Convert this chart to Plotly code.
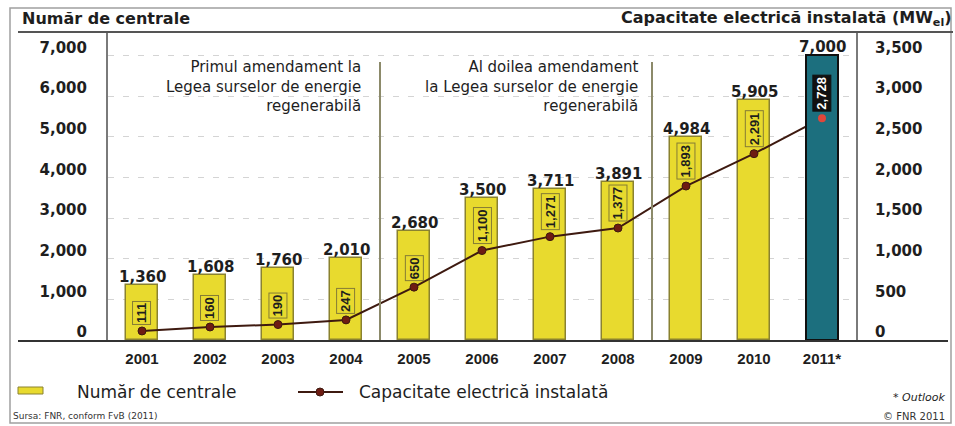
import plotly.graph_objects as go

# ---- data ----
years = ["2001", "2002", "2003", "2004", "2005", "2006", "2007", "2008", "2009", "2010", "2011"]
year_labels = ["2001", "2002", "2003", "2004", "2005", "2006", "2007", "2008", "2009", "2010", "2011*"]
numar_centrale = [1360, 1608, 1760, 2010, 2680, 3500, 3711, 3891, 4984, 5905, 7000]
capacitate_mw = [111, 160, 190, 247, 650, 1100, 1271, 1377, 1893, 2291, 2728]
left_ticks = [0, 1000, 2000, 3000, 4000, 5000, 6000, 7000]
right_ticks = [0, 500, 1000, 1500, 2000, 2500, 3000, 3500]

hist_years = years[:-1]
hist_centrale = numar_centrale[:-1]
outlook_year = years[-1:]
outlook_centrale = numar_centrale[-1:]

# ---- styling ----
W, H = 955, 426
L, R, T, B = 108, 856, 33, 340
LEFT_MAX = 7550
RIGHT_MAX = LEFT_MAX / 2

YELLOW = "#e8da2e"
OLIVE = "#8a8230"
TEAL = "#1c6f7e"
LINE = "#3e1a10"
DOT = "#6e1c12"
RED = "#e0463a"
INK = "#1e1e1e"

NUM_FONT = "DejaVu Sans"
TXT_FONT = "DejaVu Sans"
TICK_FONT = "Liberation Sans"


def px(x):
    return (x - L) / (R - L)


def py(y):
    return (B - y) / (B - T)


fig = go.Figure()

# yellow bars (historical years)
fig.add_trace(go.Bar(
    x=hist_years, y=hist_centrale, width=0.47,
    marker=dict(color=YELLOW, line=dict(color=OLIVE, width=1.5)),
    xaxis="x", yaxis="y", showlegend=False, hoverinfo="skip",
))

# installed capacity line
fig.add_trace(go.Scatter(
    x=years, y=capacitate_mw, mode="lines+markers",
    line=dict(color=LINE, width=2),
    marker=dict(color=DOT, size=8, line=dict(color=LINE, width=1)),
    xaxis="x", yaxis="y2", showlegend=False, hoverinfo="skip",
))

# outlook bar drawn above the line
fig.add_trace(go.Bar(
    x=outlook_year, y=outlook_centrale, width=0.47,
    marker=dict(color=TEAL, line=dict(color="#101010", width=2)),
    xaxis="x", yaxis="y3", showlegend=False, hoverinfo="skip",
))

# outlook capacity point
fig.add_trace(go.Scatter(
    x=outlook_year, y=capacitate_mw[-1:], mode="markers",
    marker=dict(color=RED, size=8),
    xaxis="x", yaxis="y4", showlegend=False, hoverinfo="skip",
))

annotations = []

# value labels above bars (x given as category index)
for i, v in enumerate(numar_centrale):
    annotations.append(dict(
        x=i, y=v, xref="x", yref="y", yanchor="bottom", yshift=-3,
        text=f"{v:,}", showarrow=False,
        font=dict(family=NUM_FONT, size=15, color=INK, weight="bold"),
    ))

# rotated capacity labels above line points
for i, v in enumerate(capacitate_mw):
    last = i == len(capacitate_mw) - 1
    annotations.append(dict(
        x=i, y=v, xref="x", yref="y2", yanchor="bottom", yshift=6,
        text=f"{v:,}", showarrow=False, textangle=-90,
        font=dict(family=TICK_FONT, size=13, color="white" if last else INK, weight="bold"),
        bgcolor="#111111" if last else YELLOW,
        bordercolor="#111111" if last else "#857c35", borderwidth=1, borderpad=1,
    ))

# headers
annotations.append(dict(
    x=px(20), y=py(19), xref="paper", yref="paper", xanchor="left", yanchor="middle",
    text="Număr de centrale", showarrow=False,
    font=dict(family=TXT_FONT, size=16, color=INK, weight="bold"),
))
annotations.append(dict(
    x=px(954), y=py(19), xref="paper", yref="paper", xanchor="right", yanchor="middle",
    text="Capacitate electrică instalată (MW<sub>el</sub>)", showarrow=False,
    font=dict(family=TXT_FONT, size=16, color=INK, weight="bold"),
))

# amendment notes
note1 = ["Primul amendament la", "Legea surselor de energie", "regenerabilă"]
note2 = ["Al doilea amendament", "la Legea surselor de energie", "regenerabilă"]
for text, right_edge in (("<br>".join(note1), 363), ("<br>".join(note2), 640)):
    annotations.append(dict(
        x=px(right_edge), y=py(86), xref="paper", yref="paper",
        xanchor="right", yanchor="middle", align="right",
        text=text, showarrow=False, font=dict(family=TXT_FONT, size=15, color=INK),
    ))

# legend texts
annotations.append(dict(
    x=px(75), y=py(392), xref="paper", yref="paper", xanchor="left", yanchor="middle",
    text="Număr de centrale", showarrow=False,
    font=dict(family=TXT_FONT, size=17, color=INK),
))
annotations.append(dict(
    x=px(357), y=py(392), xref="paper", yref="paper", xanchor="left", yanchor="middle",
    text="Capacitate electrică instalată", showarrow=False,
    font=dict(family=TXT_FONT, size=17, color=INK),
))
annotations.append(dict(
    x=px(947), y=py(397), xref="paper", yref="paper", xanchor="right", yanchor="middle",
    text="* <i>Outlook</i>", showarrow=False,
    font=dict(family=TXT_FONT, size=11, color=INK),
))
annotations.append(dict(
    x=px(11), y=py(416), xref="paper", yref="paper", xanchor="left", yanchor="middle",
    text="Sursa: FNR, conform FvB (2011)", showarrow=False,
    font=dict(family=TXT_FONT, size=9, color="#333333"),
))
annotations.append(dict(
    x=px(947), y=py(416), xref="paper", yref="paper", xanchor="right", yanchor="middle",
    text="© FNR 2011", showarrow=False,
    font=dict(family=TXT_FONT, size=10, color="#333333"),
))

shapes = [
    # outer frame
    dict(type="rect", xref="paper", yref="paper", x0=px(10), x1=px(951), y0=py(8), y1=py(423),
         line=dict(color="#a0a0a0", width=1.5), layer="below"),
    # header rule
    dict(type="line", xref="paper", yref="paper", x0=px(18), x1=px(953), y0=py(32), y1=py(32),
         line=dict(color="#555555", width=2)),
    # baseline rule
    dict(type="line", xref="paper", yref="paper", x0=px(18), x1=px(948), y0=py(341), y1=py(341),
         line=dict(color="#333333", width=2)),
    # amendment separators
    dict(type="line", xref="x", yref="paper", x0=3.5, x1=3.5, y0=0, y1=py(62),
         line=dict(color="#8c8a6a", width=2)),
    dict(type="line", xref="x", yref="paper", x0=7.5, x1=7.5, y0=0, y1=py(62),
         line=dict(color="#8c8a6a", width=2)),
    # legend swatches
    dict(type="rect", xref="paper", yref="paper", x0=px(18), x1=px(43), y0=py(394), y1=py(387),
         fillcolor=YELLOW, line=dict(color=OLIVE, width=1)),
    dict(type="line", xref="paper", yref="paper", x0=px(298), x1=px(343), y0=py(392), y1=py(392),
         line=dict(color=LINE, width=2)),
    dict(type="circle", xref="paper", yref="paper", x0=px(316), x1=px(324), y0=py(396), y1=py(388),
         fillcolor=DOT, line=dict(color=LINE, width=1)),
]

fig.update_layout(
    width=W, height=H,
    margin=dict(l=L, r=W - R, t=T, b=H - B, pad=0),
    paper_bgcolor="white", plot_bgcolor="white",
    barmode="overlay", bargap=0,
    showlegend=False,
    xaxis=dict(
        type="category", categoryorder="array", categoryarray=years,
        range=[-0.5, len(years) - 0.5],
        tickvals=years, ticktext=year_labels,
        showgrid=False, showline=False, zeroline=False, ticks="",
        ticklabelstandoff=8,
        tickfont=dict(family=TICK_FONT, size=15, color=INK, weight="bold"),
    ),
    yaxis=dict(
        range=[0, LEFT_MAX], tickvals=left_ticks, tickformat=",",
        showgrid=True, gridcolor="#d4d4d4", gridwidth=1, griddash="6px,9px",
        zeroline=False, showline=True, linecolor="#7a7a7a", linewidth=2,
        ticks="", ticklabelstandoff=16, ticklabelshift=-8,
        tickfont=dict(family=NUM_FONT, size=15, color=INK, weight="bold"),
    ),
    yaxis2=dict(
        range=[0, RIGHT_MAX], tickvals=right_ticks, tickformat=",",
        overlaying="y", side="right", anchor="x",
        showgrid=False, zeroline=False, showline=True, linecolor="#7a7a7a", linewidth=2,
        ticks="", ticklabelstandoff=14, ticklabelshift=-8,
        tickfont=dict(family=NUM_FONT, size=15, color=INK, weight="bold"),
    ),
    yaxis3=dict(range=[0, LEFT_MAX], overlaying="y", visible=False),
    yaxis4=dict(range=[0, RIGHT_MAX], overlaying="y", visible=False),
    annotations=annotations,
    shapes=shapes,
)

fig.write_html("out.html")
